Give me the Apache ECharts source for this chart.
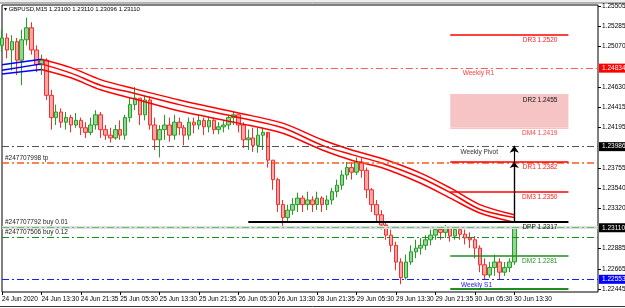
<!DOCTYPE html>
<html>
<head>
<meta charset="utf-8">
<script src="https://cdn.jsdelivr.net/npm/echarts@6/dist/echarts.min.js"></script>
<style>
  html, body { margin: 0; padding: 0; background: #fff; }
  #chart { width: 625px; height: 308px; }
</style>
</head>
<body>
<div id="chart"></div>
<script>
// GBPUSD M15 at roughly one candle per hour
const tickLabels = ['24 Jun 2020', '24 Jun 13:30', '24 Jun 21:35', '25 Jun 05:30', '25 Jun 13:30', '25 Jun 21:35',
  '26 Jun 05:30', '26 Jun 13:30', '28 Jun 21:35', '29 Jun 05:30', '29 Jun 13:30', '29 Jun 21:35', '30 Jun 05:30', '30 Jun 13:30']

const openValues = [1.2508, 1.2516, 1.2503, 1.2512, 1.2492, 1.2514, 1.2527, 1.2503, 1.2487, 1.2492,
  1.2454, 1.2430, 1.2436, 1.2425, 1.2430, 1.2422, 1.2427, 1.2419, 1.2414, 1.2422,
  1.2433, 1.2417, 1.2411, 1.2408, 1.2417, 1.2411, 1.2430, 1.2444, 1.2451, 1.2433,
  1.2449, 1.2422, 1.2406, 1.2417, 1.2422, 1.2411, 1.2425, 1.2419, 1.2411, 1.2425,
  1.2422, 1.2427, 1.2420, 1.2427, 1.2417, 1.2420, 1.2422, 1.2430, 1.2433, 1.2422,
  1.2406, 1.2408, 1.2400, 1.2411, 1.2414, 1.2384, 1.2363, 1.2336, 1.2322, 1.2330,
  1.2336, 1.2343, 1.2336, 1.2341, 1.2336, 1.2343, 1.2336, 1.2341, 1.2350, 1.2357,
  1.2368, 1.2376, 1.2371, 1.2382, 1.2373, 1.2352, 1.2336, 1.2325, 1.2314, 1.2303,
  1.2292, 1.2274, 1.2257, 1.2274, 1.2285, 1.2289, 1.2292, 1.2298, 1.2303, 1.2309,
  1.2306, 1.2311, 1.2302, 1.2309, 1.2304, 1.2300, 1.2298, 1.2289, 1.2271, 1.2260,
  1.2268, 1.2274, 1.2263, 1.2268, 1.2274]
const closeValues = [1.2516, 1.2503, 1.2512, 1.2492, 1.2514, 1.2527, 1.2503, 1.2487, 1.2492, 1.2454,
  1.2430, 1.2436, 1.2425, 1.2430, 1.2422, 1.2427, 1.2419, 1.2414, 1.2422, 1.2433,
  1.2417, 1.2411, 1.2408, 1.2417, 1.2411, 1.2430, 1.2444, 1.2451, 1.2433, 1.2449,
  1.2422, 1.2406, 1.2417, 1.2422, 1.2411, 1.2425, 1.2419, 1.2411, 1.2425, 1.2422,
  1.2427, 1.2420, 1.2427, 1.2417, 1.2420, 1.2422, 1.2430, 1.2433, 1.2422, 1.2406,
  1.2408, 1.2400, 1.2411, 1.2414, 1.2384, 1.2363, 1.2336, 1.2322, 1.2330, 1.2336,
  1.2343, 1.2336, 1.2341, 1.2336, 1.2343, 1.2336, 1.2341, 1.2350, 1.2357, 1.2368,
  1.2376, 1.2371, 1.2382, 1.2373, 1.2352, 1.2336, 1.2325, 1.2314, 1.2303, 1.2292,
  1.2274, 1.2257, 1.2274, 1.2285, 1.2289, 1.2292, 1.2298, 1.2303, 1.2309, 1.2306,
  1.2311, 1.2302, 1.2309, 1.2304, 1.2300, 1.2298, 1.2289, 1.2271, 1.2260, 1.2268,
  1.2274, 1.2263, 1.2268, 1.2274, 1.2311]
const lowValues = [1.2501, 1.2494, 1.2481, 1.2476, 1.2465, 1.2508, 1.2498, 1.2479, 1.2476, 1.2449,
  1.2417, 1.2422, 1.2419, 1.2417, 1.2414, 1.2419, 1.2411, 1.2408, 1.2411, 1.2417,
  1.2408, 1.2406, 1.2403, 1.2406, 1.2406, 1.2406, 1.2425, 1.2438, 1.2422, 1.2427,
  1.2417, 1.2395, 1.2387, 1.2406, 1.2404, 1.2406, 1.2411, 1.2400, 1.2406, 1.2413,
  1.2417, 1.2411, 1.2414, 1.2412, 1.2412, 1.2414, 1.2417, 1.2422, 1.2414, 1.2397,
  1.2395, 1.2393, 1.2392, 1.2395, 1.2376, 1.2352, 1.2328, 1.2313, 1.2317, 1.2325,
  1.2328, 1.2328, 1.2330, 1.2328, 1.2330, 1.2328, 1.2330, 1.2336, 1.2344, 1.2352,
  1.2363, 1.2363, 1.2368, 1.2365, 1.2343, 1.2328, 1.2317, 1.2309, 1.2298, 1.2285,
  1.2265, 1.2250, 1.2255, 1.2271, 1.2278, 1.2282, 1.2287, 1.2292, 1.2298, 1.2298,
  1.2300, 1.2296, 1.2298, 1.2298, 1.2293, 1.2289, 1.2278, 1.2263, 1.2255, 1.2257,
  1.2259, 1.2255, 1.2259, 1.2263, 1.2271]
const highValues = [1.2525, 1.2521, 1.2519, 1.2516, 1.2525, 1.2538, 1.2533, 1.2508, 1.2498, 1.2494,
  1.2460, 1.2444, 1.2440, 1.2436, 1.2433, 1.2435, 1.2430, 1.2425, 1.2430, 1.2438,
  1.2436, 1.2422, 1.2419, 1.2422, 1.2427, 1.2433, 1.2451, 1.2463, 1.2451, 1.2454,
  1.2453, 1.2430, 1.2422, 1.2433, 1.2430, 1.2433, 1.2430, 1.2422, 1.2430, 1.2430,
  1.2433, 1.2430, 1.2431, 1.2430, 1.2425, 1.2427, 1.2433, 1.2436, 1.2433, 1.2425,
  1.2417, 1.2419, 1.2419, 1.2419, 1.2408, 1.2384, 1.2365, 1.2341, 1.2336, 1.2343,
  1.2349, 1.2346, 1.2350, 1.2345, 1.2350, 1.2345, 1.2346, 1.2354, 1.2363, 1.2373,
  1.2382, 1.2382, 1.2387, 1.2386, 1.2376, 1.2354, 1.2341, 1.2330, 1.2317, 1.2309,
  1.2296, 1.2278, 1.2282, 1.2292, 1.2298, 1.2300, 1.2303, 1.2309, 1.2313, 1.2313,
  1.2314, 1.2313, 1.2313, 1.2312, 1.2309, 1.2306, 1.2302, 1.2292, 1.2278, 1.2274,
  1.2282, 1.2278, 1.2274, 1.2278, 1.2311]

// moving average bands, [candle index, price]
const redUpper = [[8, 1.2493], [14, 1.2484], [20, 1.2471], [27, 1.2461], [36, 1.2449], [48, 1.2435], [57, 1.2424],
  [65, 1.2406], [71, 1.2395], [77, 1.2386], [85, 1.2370], [91, 1.2354], [97, 1.2336], [104, 1.2325]]
const redMiddle = [[8, 1.2488], [14, 1.2478], [20, 1.2465], [27, 1.2456], [36, 1.2444], [48, 1.2430], [57, 1.2419],
  [65, 1.2400], [71, 1.2390], [77, 1.2381], [85, 1.2365], [91, 1.2349], [97, 1.2331], [104, 1.2322]]
const redLower = [[8, 1.2482], [14, 1.2473], [20, 1.2460], [27, 1.2450], [36, 1.2437], [48, 1.2424], [57, 1.2413],
  [65, 1.2395], [71, 1.2384], [77, 1.2376], [85, 1.2359], [91, 1.2343], [97, 1.2327], [104, 1.2317]]
const blueUpper = [[0, 1.2487], [8, 1.2493]]
const blueMiddle = [[0, 1.2481], [8, 1.2488]]
const blueLower = [[0, 1.2477], [8, 1.2482]]

// daily pivot levels (short segments on the right)
const levelNames = ['DR3', 'DR2', 'DM4', 'DR1', 'DM3', 'DPP', 'DM2', 'DM1']
const levelValues = [1.2520, 1.2455, 1.2419, 1.2382, 1.2350, 1.2317, 1.2281, 1.2245]

const weeklyNames = ['Weekly R1', 'Weekly Pivot', 'Weekly S1']
const weeklyValues = [1.24834, 1.23986, 1.22553]

const orderNames = ['#247707998 tp', '#247707792 buy 0.01', '#247707506 buy 0.12']
const orderValues = [1.23815, 1.2312, 1.2301]

const lastPrice = 1.23110
const priceTicks = [1.25505, 1.25285, 1.25070, 1.24630, 1.24415, 1.24195, 1.23755, 1.23540, 1.23320, 1.22885, 1.22665, 1.22445]

const FONT = 'Liberation Sans'
const FS = 6.5
const DASHDOT = [7, 3, 2, 3]
const SLOTS = 122
const SEG_FROM = 91
const SEG_TO = 115
const LAST = 104

const categories = []
for (let i = 0; i < SLOTS; i++) {
  categories.push(i % 8 === 0 && tickLabels[i / 8] ? tickLabels[i / 8] : 'bar' + i)
}
const candles = openValues.map((o, i) => [o, closeValues[i], lowValues[i], highValues[i]])

function txt (color) {
  return { color: color, fontSize: FS, fontFamily: FONT }
}

function segment (name, value, color, width, textColor) {
  const label = name === 'DM1'
    ? { show: false }
    : Object.assign({ show: true, position: 'insideEndBottom', distance: [11, 2], formatter: name + ' ' + value.toFixed(4) }, txt(textColor))
  return [
    { coord: [name === 'DPP' ? 50 : SEG_FROM, value], lineStyle: { color: color, width: width, type: 'solid' }, label: label },
    { coord: [SEG_TO, value] }
  ]
}

const levelColors = {
  DR3: ['#ff0000', 1.5, '#ff1a1a'],
  DR2: ['#f6c4c4', 1, '#111'],
  DM4: ['#f6c4c4', 1, '#ff3b3b'],
  DR1: ['#ff0000', 1.5, '#ff1a1a'],
  DM3: ['#ff0000', 1.5, '#ff1a1a'],
  DPP: ['#000000', 2, '#111'],
  DM2: ['#1f8f1f', 1.5, '#2a8a2a'],
  DM1: ['#1f8f1f', 2, '#2a8a2a']
}

const lines = []
// current price band
lines.push([
  { coord: [0, lastPrice], lineStyle: { color: '#dcdcdc', width: 3, type: 'solid' }, label: { show: false } },
  { coord: [SLOTS - 1, lastPrice] }
])
// weekly levels
const weeklyStyle = [['#ff5a5a', 1, '#ff3b3b', 15, 104], ['#555555', 1, '#333', 0, 100], ['#1a1aff', 1, '#2020ff', 0, 106]]
weeklyNames.forEach((n, k) => {
  const s = weeklyStyle[k]
  lines.push([
    { coord: [s[3], weeklyValues[k]], lineStyle: { color: s[0], width: s[1], type: DASHDOT },
      label: Object.assign({ show: true, position: 'insideEndBottom', distance: [s[4], 2], formatter: n }, txt(s[2])) },
    { coord: [SLOTS - 1, weeklyValues[k]] }
  ])
})
// order lines
const orderStyle = [['#ff5a1e', 1.5], ['#6cbf6c', 1], ['#1a8c1a', 1]]
orderNames.forEach((n, k) => {
  lines.push([
    { coord: [0, orderValues[k]], lineStyle: { color: orderStyle[k][0], width: orderStyle[k][1], type: DASHDOT },
      label: Object.assign({ show: true, position: 'insideStartTop', distance: [3, 1], formatter: n }, txt('#222')) },
    { coord: [SLOTS - 1, orderValues[k]] }
  ])
})
levelNames.forEach((n, k) => {
  const c = levelColors[n]
  lines.push(segment(n, levelValues[k], c[0], c[1], c[2]))
})
// hand drawn arrows from DPP up to DR1 and to the weekly pivot
lines.push([
  { coord: [LAST, levelValues[5]], symbol: 'none', lineStyle: { color: '#000', width: 1.2, type: 'solid' }, label: { show: false } },
  { coord: [LAST, weeklyValues[1] + 0.0001], symbol: 'arrow', symbolSize: [7, 7] }
])
lines.push([
  { coord: [LAST, levelValues[5]], symbol: 'none', lineStyle: { color: '#000', width: 1.2, type: 'solid' }, label: { show: false } },
  { coord: [LAST, levelValues[3]], symbol: 'arrow', symbolSize: [7, 6] }
])

function bandSeries (data, color) {
  return {
    type: 'line',
    data: data,
    symbol: 'none',
    smooth: 0.3,
    z: 4,
    lineStyle: { color: color, width: 1.5 },
    silent: true
  }
}

const chart = echarts.init(document.getElementById('chart'), null, { renderer: 'canvas' })
chart.setOption({
  animation: false,
  backgroundColor: '#fff',
  title: {
    text: '▾ GBPUSD,M15 1.23100 1.23110 1.23096 1.23110',
    left: 4,
    top: 6,
    padding: 0,
    textStyle: { fontSize: 6, fontWeight: 'normal', color: '#000', fontFamily: FONT }
  },
  grid: {
    left: 2, right: 27, top: 5, bottom: 16,
    outerBoundsMode: 'none',
    containLabel: false,
    show: true, borderColor: '#000', borderWidth: 1, backgroundColor: '#fff'
  },
  xAxis: {
    type: 'category',
    data: categories,
    boundaryGap: false,
    axisLine: { show: false },
    axisTick: {
      show: true, length: 3, lineStyle: { color: '#000' },
      interval: (i) => i % 8 === 0 && i <= LAST
    },
    axisLabel: {
      interval: (i) => i % 8 === 0 && i <= LAST,
      formatter: (v) => (v.indexOf('bar') === 0 ? '' : v),
      align: 'left',
      margin: 4,
      color: '#000',
      fontSize: FS,
      fontFamily: FONT
    },
    splitLine: { show: false }
  },
  yAxis: [{
    type: 'value',
    position: 'right',
    min: 1.22416,
    max: 1.25516,
    axisLine: { show: false },
    splitLine: { show: false },
    axisTick: { show: true, length: 3, customValues: priceTicks, lineStyle: { color: '#000' } },
    axisLabel: {
      customValues: priceTicks,
      formatter: (v) => v.toFixed(5),
      margin: 4,
      color: '#000',
      fontSize: FS,
      fontFamily: FONT
    }
  }, {
    type: 'value',
    position: 'right',
    offset: 0,
    min: 1.22416,
    max: 1.25516,
    axisLine: { show: false },
    splitLine: { show: false },
    axisTick: { show: false },
    axisLabel: {
      customValues: [weeklyValues[0], weeklyValues[1], lastPrice, weeklyValues[2]],
      margin: 1,
      formatter: (v) => {
        const tag = Math.abs(v - weeklyValues[0]) < 1e-6 ? 'r' : (Math.abs(v - weeklyValues[2]) < 1e-6 ? 'b' : 'k')
        return '{' + tag + '|' + v.toFixed(5) + '}'
      },
      rich: {
        r: { backgroundColor: '#ff0000', color: '#fff', padding: [1, 4, 1, 3], fontSize: FS, fontFamily: FONT },
        k: { backgroundColor: '#000000', color: '#fff', padding: [1, 4, 1, 3], fontSize: FS, fontFamily: FONT },
        b: { backgroundColor: '#0000ff', color: '#fff', padding: [1, 4, 1, 3], fontSize: FS, fontFamily: FONT }
      }
    }
  }],
  series: [
    {
      type: 'candlestick',
      data: candles,
      barWidth: 4,
      z: 3,
      itemStyle: {
        color: '#93d693',
        borderColor: '#23a023',
        color0: '#f7a8a8',
        borderColor0: '#ff2b2b',
        borderWidth: 1
      },
      markArea: {
        silent: true,
        itemStyle: { color: '#f6c4c4' },
        data: [[{ coord: [SEG_FROM, levelValues[1]] }, { coord: [SEG_TO, levelValues[2]] }]]
      },
      markLine: {
        silent: true,
        symbol: 'none',
        animation: false,
        label: { show: false },
        data: lines
      }
    },
    bandSeries(blueUpper, '#0000ff'),
    bandSeries(blueMiddle, '#0000ff'),
    bandSeries(blueLower, '#0000ff'),
    bandSeries(redUpper, '#ff0000'),
    bandSeries(redMiddle, '#ff0000'),
    bandSeries(redLower, '#ff0000')
  ],
  graphic: [
    { type: 'rect', shape: { x: 0, y: 0, width: 625, height: 3 }, style: { fill: '#eeeeee' } },
    { type: 'line', shape: { x1: 0, y1: 3, x2: 625, y2: 3 }, style: { stroke: '#777', lineWidth: 1 } },
    { type: 'line', shape: { x1: 0, y1: 306.5, x2: 625, y2: 306.5 }, style: { stroke: '#333', lineWidth: 1 } }
  ]
})
</script>
</body>
</html>
